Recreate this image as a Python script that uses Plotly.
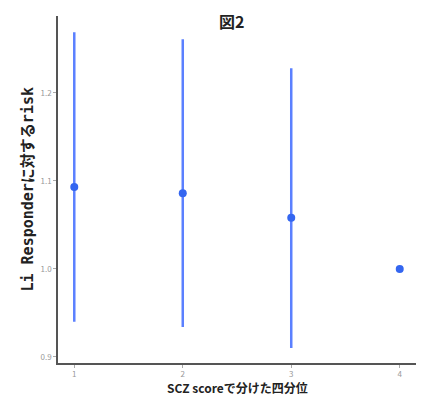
import plotly.graph_objects as go

quartiles = [1, 2, 3, 4]
risk = [1.093, 1.086, 1.058, 1.0]
upper = [1.269, 1.261, 1.228, 1.0]
lower = [0.940, 0.934, 0.910, 1.0]
x_ticks = [1, 2, 3, 4]
y_ticks = [0.9, 1.0, 1.1, 1.2]

err_plus = [u - r for u, r in zip(upper, risk)]
err_minus = [r - l for r, l in zip(risk, lower)]

fig = go.Figure()
fig.add_trace(go.Scatter(
    x=quartiles, y=risk, mode="markers",
    marker=dict(color="#3466f0", size=8),
    error_y=dict(type="data", symmetric=False, array=err_plus, arrayminus=err_minus,
                 color="#5b80ff", thickness=2.5, width=0),
    showlegend=False,
))

fig.update_layout(
    width=416, height=388,
    margin=dict(l=50, r=8, t=8, b=33),
    paper_bgcolor="white", plot_bgcolor="white",
    font=dict(family="Noto Sans CJK JP, sans-serif"),
    xaxis=dict(range=[0.85, 4.15], tickvals=x_ticks, ticktext=[str(v) for v in x_ticks],
               showgrid=False, zeroline=False, showline=True, linecolor="#555555", linewidth=1.5,
               ticks="outside", ticklen=3, tickcolor="#aaaaaa",
               tickfont=dict(size=8, color="#999999")),
    yaxis=dict(range=[0.893, 1.2875], tickvals=y_ticks, ticktext=["0.9", "1.0", "1.1", "1.2"],
               showgrid=False, zeroline=False, showline=True, linecolor="#555555", linewidth=1.5,
               ticks="outside", ticklen=3, tickcolor="#aaaaaa",
               tickfont=dict(size=8, color="#999999")),
    annotations=[
        dict(text="<b>図2</b>", x=0.5, y=1.0, xref="paper", yref="paper", xanchor="center",
             yanchor="top", showarrow=False, xshift=-6, yshift=9,
             font=dict(size=16, color="#222222")),
        dict(text="<b>SCZ scoreで分けた四分位</b>", x=0.5, y=0, xref="paper", yref="paper",
             xanchor="center", yanchor="top", showarrow=False, yshift=-14,
             font=dict(size=12, color="#222222", family="Noto Sans CJK JP, sans-serif")),
        dict(text="<b>Li Responderに対するrisk</b>", x=0, y=0.5, xref="paper", yref="paper",
             xanchor="right", yanchor="middle", showarrow=False, xshift=-20, yshift=0,
             textangle=-90,
             font=dict(size=15, color="#222222",
                       family="DejaVu Sans Mono, Noto Sans CJK JP, monospace")),
    ],
)

fig.write_html("out.html")
